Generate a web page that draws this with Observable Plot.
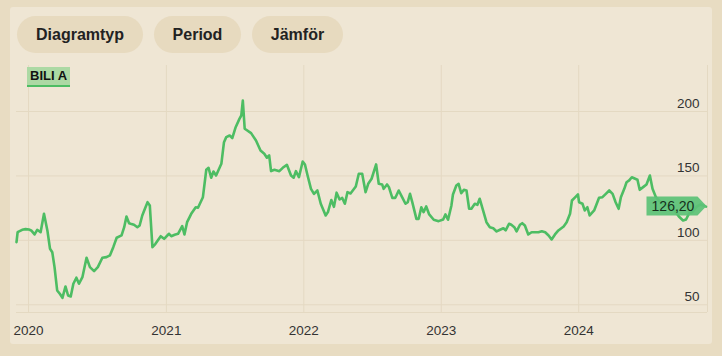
<!DOCTYPE html>
<html><head><meta charset="utf-8">
<script src="https://cdn.jsdelivr.net/npm/d3@7"></script>
<script src="https://cdn.jsdelivr.net/npm/@observablehq/plot@0.6"></script>
<style>
body{margin:0;background:#e8dcc2;width:722px;height:356px;overflow:hidden;font-family:"Liberation Sans",Arial,sans-serif;position:relative;}
#panel{position:absolute;left:10px;top:7px;width:702px;height:337px;background:#efe6d4;border-radius:3px;}
.btn{position:absolute;top:16px;height:37px;border-radius:19px;background:#e7dabf;font-weight:bold;font-size:16px;color:#222;display:flex;align-items:center;justify-content:center;}
#chart{position:absolute;left:0;top:0;}
#ticker{position:absolute;left:27px;top:67px;height:18px;padding:0 3px;background:#acd9a4;border-bottom:2px solid #4dbd63;font-weight:bold;font-size:13px;line-height:18px;color:#111;}
</style></head>
<body>
<div id="panel"></div>
<div class="btn" style="left:17px;width:126px">Diagramtyp</div>
<div class="btn" style="left:154px;width:87px">Period</div>
<div class="btn" style="left:252px;width:91px">Jämför</div>
<div id="chart"></div>
<div id="ticker">BILI A</div>
<script>
const ticker = "BILI A";
const dates = [
"2019-11-30","2019-12-03","2019-12-15","2019-12-24","2020-01-02","2020-01-08","2020-01-17","2020-01-24","2020-02-02","2020-02-11",
"2020-02-20","2020-02-27","2020-03-04","2020-03-10","2020-03-17","2020-03-24","2020-03-31","2020-04-08","2020-04-15","2020-04-22",
"2020-04-29","2020-05-07","2020-05-14","2020-05-23","2020-06-03","2020-06-12","2020-06-23","2020-07-03","2020-07-15","2020-07-26",
"2020-08-04","2020-08-13","2020-08-22","2020-09-04","2020-09-11","2020-09-17","2020-09-24","2020-09-28","2020-10-07","2020-10-16",
"2020-10-22","2020-10-29","2020-11-05","2020-11-12","2020-11-18","2020-11-25","2020-12-03","2020-12-17","2020-12-26",
"2021-01-08","2021-01-14","2021-01-23","2021-02-01","2021-02-12","2021-02-18","2021-02-25","2021-03-08","2021-03-20","2021-03-26",
"2021-04-08","2021-04-17","2021-04-23","2021-04-30","2021-05-06","2021-05-13","2021-05-27","2021-06-03","2021-06-09","2021-06-18",
"2021-06-25","2021-07-04","2021-07-14","2021-07-19","2021-07-23","2021-07-28","2021-08-01","2021-08-14","2021-08-27","2021-09-08",
"2021-09-18","2021-09-25","2021-10-01","2021-10-06","2021-10-15","2021-10-28","2021-11-06","2021-11-17","2021-11-28","2021-12-05",
"2021-12-11","2021-12-19","2021-12-29",
"2022-01-04","2022-01-11","2022-01-20","2022-01-28","2022-02-06","2022-02-15","2022-02-28","2022-03-06","2022-03-15","2022-03-22",
"2022-03-29","2022-04-06","2022-04-13","2022-04-20","2022-04-27","2022-05-05","2022-05-19","2022-05-27","2022-06-05","2022-06-14",
"2022-06-21","2022-06-30","2022-07-12","2022-07-19","2022-07-28","2022-08-01","2022-08-10","2022-08-15","2022-08-24","2022-09-01",
"2022-09-10","2022-09-19","2022-09-28","2022-10-04","2022-10-10","2022-10-16","2022-10-27","2022-11-02","2022-11-09","2022-11-15",
"2022-11-22","2022-11-30","2022-12-12","2022-12-25",
"2023-01-06","2023-01-12","2023-01-19","2023-01-28","2023-02-01","2023-02-10","2023-02-16","2023-02-23","2023-03-02","2023-03-09",
"2023-03-16","2023-03-22","2023-03-31","2023-04-07","2023-04-13","2023-04-22","2023-05-01","2023-05-10","2023-05-19","2023-05-28",
"2023-06-06","2023-06-15","2023-06-21","2023-06-30","2023-07-06","2023-07-14","2023-07-20","2023-07-29","2023-08-04","2023-08-11",
"2023-08-20","2023-08-29","2023-09-07","2023-09-16","2023-09-25","2023-10-04","2023-10-13","2023-10-21","2023-10-30","2023-11-08",
"2023-11-22","2023-11-30","2023-12-09","2023-12-14","2023-12-23","2023-12-30",
"2024-01-02","2024-01-11","2024-01-17","2024-01-24","2024-01-30","2024-02-11","2024-02-24","2024-03-04","2024-03-13","2024-03-22",
"2024-03-31","2024-04-08","2024-04-16","2024-04-22","2024-05-01","2024-05-07","2024-05-14","2024-05-21","2024-05-30","2024-06-05",
"2024-06-11","2024-06-20","2024-06-29","2024-07-08","2024-07-15","2024-07-24","2024-08-01","2024-08-11","2024-08-22","2024-09-02",
"2024-09-12","2024-09-23","2024-10-04","2024-10-12","2024-10-20","2024-10-30","2024-11-10","2024-11-20","2024-12-04"
];
const values = [
98.6,106.3,108.2,108.7,108.4,107.7,104.6,108.2,106.3,120.6,
107.7,93.5,90.8,79.2,61.1,58.5,55.4,64.2,57.2,56.4,
66.3,71.0,66.3,71.4,86.5,79.2,76.1,79.2,86.5,87.0,
88.3,94.7,102.0,103.8,110.2,118.5,113.3,112.9,112.1,110.2,
111.5,119.3,124.5,129.6,127.1,94.7,97.3,103.2,101.2,
105.1,103.2,104.3,105.1,111.0,104.6,114.1,120.6,125.7,125.3,
133.5,154.8,156.3,148.6,153.4,150.3,159.4,176.2,180.1,181.4,
179.3,187.8,194.3,196.9,208.5,186.6,185.8,183.2,177.5,169.7,
167.2,164.1,165.9,153.7,154.8,153.7,156.3,158.6,150.3,148.6,
153.7,149.0,161.2,
158.9,150.3,140.0,136.1,138.7,128.4,119.3,121.9,131.3,126.0,
137.0,131.7,132.9,128.4,137.4,136.4,141.8,151.7,151.7,137.4,
143.9,147.8,158.9,143.9,143.4,140.0,143.4,141.3,133.0,133.0,
138.7,133.5,128.4,129.6,136.1,129.6,116.7,116.7,125.7,121.9,
126.3,120.1,116.0,114.9,
116.2,120.1,116.0,127.1,135.6,142.6,143.9,136.6,139.2,138.7,
124.5,124.5,128.4,127.6,132.3,123.2,114.1,110.2,109.4,106.9,
108.2,109.4,107.7,112.9,112.1,110.2,106.9,112.1,113.3,111.5,
104.6,106.3,106.3,106.3,107.1,106.3,103.8,100.7,104.6,107.7,
110.8,114.1,120.6,130.9,133.5,135.6,
129.6,128.4,123.2,125.7,119.3,123.2,133.0,133.5,136.1,138.7,
136.1,129.6,124.5,133.5,140.0,145.1,146.5,149.0,147.8,147.0,
139.2,141.3,143.4,150.3,140.0,133.5,130.9,128.6,127.1,125.5,
123.2,118.5,115.4,116.2,120.9,122.4,126.3,127.8,126.2
];
const yearTicks = ["2020-01-01","2021-01-01","2022-01-01","2023-01-01","2024-01-01"];
const yTicks = [50, 100, 150, 200];
const xDomain = ["2019-11-30", "2024-12-08"];
const yDomain = [44, 235.7];

const data = dates.map((d, i) => ({date: new Date(d), value: values[i]}));
const last = data[data.length - 1];
const gridColor = "#e4d9c2";
const lineColor = "#4dbd63";

const priceLabel = (index, scales) => {
  const tip = scales.x(last.date) + 1;
  const y = scales.y(last.value);
  const g = d3.create("svg:g");
  const left = tip - 60, right = tip - 9, h = 9.5;
  g.append("path")
    .attr("d", `M${left},${y - h}H${right}L${tip},${y}L${right},${y + h}H${left}Z`)
    .attr("fill", "#5cc277").attr("fill-opacity", 0.93);
  g.append("text")
    .attr("x", (left + right) / 2 + 1).attr("y", y).attr("dy", "0.35em")
    .attr("text-anchor", "middle").attr("fill", "#16301c")
    .attr("font-size", 14)
    .text(last.value.toFixed(2).replace(".", ","));
  return g.node();
};

const chart = Plot.plot({
  width: 722, height: 356,
  marginLeft: 16, marginRight: 15, marginTop: 65, marginBottom: 44,
  style: {background: "transparent", fontFamily: "Liberation Sans, Arial, sans-serif", fontSize: "13.5px", color: "#333"},
  x: {type: "utc", domain: xDomain.map(d => new Date(d)), axis: null},
  y: {domain: yDomain, axis: null},
  marks: [
    Plot.gridX(yearTicks.map(d => new Date(d)), {stroke: gridColor, strokeOpacity: 1, strokeWidth: 1}),
    Plot.gridY(yTicks, {stroke: gridColor, strokeOpacity: 1, strokeWidth: 1}),
    Plot.ruleY([yDomain[0]], {stroke: gridColor, strokeWidth: 1}),
    Plot.ruleX([new Date(xDomain[1])], {stroke: gridColor, strokeWidth: 1}),
    Plot.axisX(yearTicks.map(d => new Date(d)), {tickSize: 0, tickPadding: 13, tickFormat: d3.utcFormat("%Y"), fill: "#333", fontSize: 13.5}),
    Plot.text(yTicks, {y: d => d, text: d => String(d), frameAnchor: "right", textAnchor: "end", dx: -8, dy: -8, fill: "#333", fontSize: 13.5}),
    Plot.lineY(data, {x: "date", y: "value", stroke: lineColor, strokeWidth: 2.6, strokeLinejoin: "round"}),
    priceLabel
  ]
});
document.getElementById("chart").appendChild(chart);
</script>
</body></html>
